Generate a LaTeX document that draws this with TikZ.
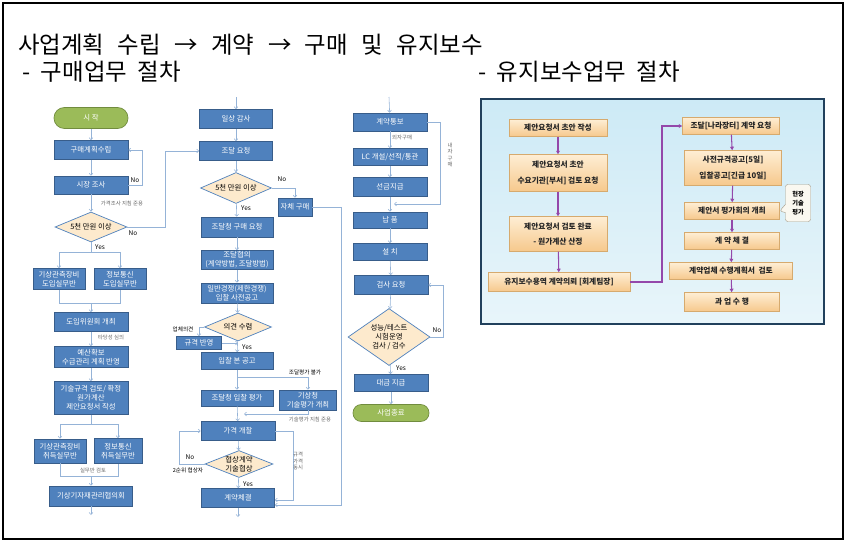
\documentclass[tikz,border=0pt]{standalone}
\usepackage{fontspec}
\setmainfont{Noto Sans CJK KR}
\usetikzlibrary{arrows.meta,shapes.geometric,shapes.callouts,calc}

\definecolor{boxblue}{RGB}{79,129,189}
\definecolor{boxline}{RGB}{56,93,138}
\definecolor{linkblue}{RGB}{149,179,215}
\definecolor{decfill}{RGB}{253,234,205}
\definecolor{termgreen}{RGB}{155,187,89}
\definecolor{termline}{RGB}{113,140,62}
\definecolor{notegray}{RGB}{105,105,105}
\definecolor{paneltop}{RGB}{205,234,246}
\definecolor{panelbot}{RGB}{232,245,250}
\definecolor{panelline}{RGB}{33,64,92}
\definecolor{peachtop}{RGB}{254,238,212}
\definecolor{peachbot}{RGB}{246,200,140}
\definecolor{peachline}{RGB}{214,170,110}
\definecolor{flowpurple}{RGB}{148,72,170}

\begin{document}
\begin{tikzpicture}[x=0.3mm,y=-0.3mm,
	blk/.style={draw=boxline, fill=boxblue, text=white, line width=0.5pt, inner sep=0pt, align=center, font=\fontsize{6.3}{7.8}\selectfont},
	dec/.style={diamond, draw=boxblue, fill=decfill, line width=0.6pt, inner sep=0pt, aspect=2.4, align=center, font=\fontsize{6.3}{7.8}\selectfont},
	term/.style={draw=termline, fill=termgreen, text=white, line width=0.6pt, inner sep=0pt, font=\fontsize{6.3}{7.8}\selectfont},
	link/.style={draw=linkblue, line width=0.5pt},
	con/.style={link, -{Straight Barb[length=1.8pt,width=3.2pt]}},
	lbl/.style={inner sep=0pt, font=\fontsize{5.5}{6}\selectfont},
	note/.style={inner sep=0pt, text=notegray, align=center, font=\fontsize{4.6}{5.5}\selectfont},
	head/.style={anchor=west, inner sep=0pt, font=\fontsize{20}{24}\selectfont},
	pbox/.style={draw=peachline, top color=peachtop, bottom color=peachbot, inner sep=0pt, align=center, text=black!85, font=\bfseries\fontsize{6.6}{13}\selectfont},
	pcon/.style={draw=flowpurple, line width=0.9pt, -{Triangle[length=3pt,width=3.2pt]}}]
	\useasboundingbox (0,0) rectangle (846,542);
	\draw[line width=0.9pt] (3,3) rectangle (843,539);

	\node[head] (title) at (18,45) {\spaceskip=11.5pt\relax 사업계획 수립 → 계약 → 구매 및 유지보수};
	\node[head] (subbuy) at (22,72) {\spaceskip=9pt\relax - 구매업무 절차};
	\node[head] (subkeep) at (478,72) {\spaceskip=9pt\relax - 유지보수업무 절차};

	% 1열
	\node[term, rounded corners=3.1mm, minimum width=22.2mm, minimum height=6.3mm] (start) at (91,118) {시 작};
	\node[blk, minimum width=22.2mm, minimum height=5.7mm] (plan) at (91,150) {구매계획수립};
	\node[blk, minimum width=22.2mm, minimum height=5.4mm] (survey) at (91,185) {시장 조사};
	\node[dec, minimum width=21.6mm, minimum height=9mm] (d1) at (91,227) {5천 만원 이상};
	\node[blk, minimum width=15.6mm, minimum height=6.3mm] (in1) at (59,279) {기상관측장비\\도입실무반};
	\node[blk, minimum width=15.6mm, minimum height=6.3mm] (in2) at (120,279) {정보통신\\도입실무반};
	\node[blk, minimum width=22.2mm, minimum height=5.7mm] (comm) at (91,322) {도입위원회 개최};
	\node[blk, minimum width=22.2mm, minimum height=6.3mm] (budget) at (91,357) {예산확보\\수급관리 계획 반영};
	\node[blk, minimum width=22.2mm, minimum height=9.9mm] (spec) at (91,398) {기술규격 검토/ 확정\\원가계산\\제안요청서 작성};
	\node[blk, minimum width=15.6mm, minimum height=7.2mm] (ac1) at (60,451) {기상관측장비\\취득실무반};
	\node[blk, minimum width=14.4mm, minimum height=7.5mm] (ac2) at (118,451) {정보통신\\취득실무반};
	\node[blk, minimum width=24.9mm, minimum height=6mm] (council) at (91,496) {기상기자재관리협의회};
	\coordinate (mg1) at (91,303);
	\coordinate (mg2) at (91,476);
	\coordinate (out1) at (91,515);

	\draw[con] (start) -- (plan);
	\draw[con] (plan) -- (survey);
	\draw[con] (survey.east) -- ++(14,0) |- (plan.east);
	\node[lbl] at (135,180) {No};
	\draw[con] (survey) -- (d1);
	\node[note] at (122,203) {가격조사 지침 준용};
	\draw[con] (d1.south) -- ++(0,10) -| (in1.north);
	\draw[con] (d1.south) -- ++(0,10) -| (in2.north);
	\node[lbl, anchor=west] at (95,247) {Yes};
	\node[lbl] at (133,233) {No};
	\draw[link] (in1.south) -- ++(0,13.5) -| (in2.south);
	\draw[con] (mg1) -- (comm.north);
	\draw[con] (comm) -- (budget);
	\node[note] at (111,337) {타당성 심의};
	\draw[con] (budget) -- (spec);
	\draw[con] (spec.south) -- ++(0,9) -| (ac1.north);
	\draw[con] (spec.south) -- ++(0,9) -| (ac2.north);
	\draw[link] (ac1.south) -- ++(0,13) -| (ac2.south);
	\node[note] at (93,470) {실무반 검토};
	\draw[con] (mg2) -- (council.north);
	\draw[con] (council) -- (out1);

	% 2열
	\coordinate (in2top) at (236,97);
	\node[blk, minimum width=21.9mm, minimum height=5.7mm] (audit) at (236,119) {일상 감사};
	\node[blk, minimum width=21.9mm, minimum height=5.7mm] (req) at (236,151) {조달 요청};
	\node[dec, minimum width=21.3mm, minimum height=9.3mm] (d2) at (236,188) {5천 만원 이상};
	\node[blk, minimum width=10.2mm, minimum height=5.4mm] (self) at (295,207) {자체 구매};
	\node[blk, minimum width=21.6mm, minimum height=6mm] (pps) at (237,227) {조달청 구매 요청};
	\node[blk, minimum width=21.6mm, minimum height=5.7mm] (consult) at (237,260) {조달협의\\(계약방법, 조달방법)};
	\node[blk, minimum width=21.6mm, minimum height=6mm] (notice) at (237,293) {일반경쟁(제한경쟁)\\입찰 사전공고};
	\node[dec, minimum width=20.1mm, minimum height=8.4mm] (d3) at (238,327) {의견 수렴};
	\node[blk, minimum width=13.5mm, minimum height=3.9mm] (reflect) at (199,343) {규격 반영};
	\node[blk, minimum width=21.6mm, minimum height=5.1mm] (main) at (237,361) {입찰 본 공고};
	\node[blk, minimum width=21.6mm, minimum height=4.8mm] (eval) at (237,398) {조달청 입찰 평가};
	\node[blk, minimum width=17.1mm, minimum height=6mm] (kma) at (308,400) {기상청\\기술평가 개최};
	\node[blk, minimum width=22.2mm, minimum height=5.7mm] (open) at (238,431) {가격 개찰};
	\node[dec, aspect=2.5, minimum width=20.4mm, minimum height=8.1mm] (d4) at (239,464) {협상계약\\기술협상};
	\node[blk, minimum width=21.9mm, minimum height=5.7mm] (sign) at (238,498) {계약체결};
	\coordinate (j1) at (238,343);
	\coordinate (j2) at (244,414);
	\coordinate (out2) at (238,517);

	\draw[con] (in2top) -- (audit);
	\draw[con] (audit) -- (req);
	\draw[con] (d1.east) -- (165,227) |- (req.west);
	\draw[con] (req) -- (d2);
	\draw[con] (d2.east) -| (self.north);
	\node[lbl] at (282,179) {No};
	\draw[con] (d2) -- (pps);
	\node[lbl, anchor=west] at (241,208) {Yes};
	\draw[con] (pps) -- (consult);
	\draw[con] (consult) -- (notice);
	\draw[con] (notice) -- (d3);
	\draw[con] (d3.west) -| (reflect.north);
	\node[lbl, font=\fontsize{4.8}{5.5}\selectfont] at (183,329) {업체의견};
	\draw[con] (reflect.east) -- (j1);
	\draw[con] (d3) -- (main);
	\node[lbl, anchor=west] at (242,347) {Yes};
	\draw[con] (main) -- (eval);
	\draw[con] (main.south) -- ++(0,7) -| (kma.north);
	\node[lbl, font=\fontsize{4.8}{5.5}\selectfont] at (305,372) {조달평가 불가};
	\draw[con] (kma.south) |- (j2);
	\node[note] at (310,419) {기술평가 지침 준용};
	\draw[con] (eval) -- (open);
	\draw[con] (open) -- (d4);
	\draw[con] (d4.west) -- ++(-25,0) |- (open.west);
	\node[lbl] at (190,457) {No};
	\node[lbl, font=\fontsize{4.8}{5.5}\selectfont] at (188,470) {2순위 협상자};
	\draw[con] (d4) -- (sign);
	\node[lbl, anchor=west] at (243,484) {Yes};
	\draw[con] (open.east) -- ++(18,0) |- ($(sign.east)+(0,2)$);
	\node[note] at (298,461) {규격\\가격\\동시};
	\draw[con] (self.east) -- (341,207) |- ($(sign.east)+(0,7)$);
	\draw[con] (sign) -- (out2);

	% 3열
	\coordinate (in3top) at (389,97);
	\node[blk, minimum width=22.2mm, minimum height=5.4mm] (notify) at (390,122) {계약통보};
	\node[blk, minimum width=22.2mm, minimum height=5.1mm] (lc) at (390,157) {LC 개설/선적/통관};
	\node[blk, minimum width=22.2mm, minimum height=5.7mm] (adv) at (390,187) {선금지급};
	\node[blk, minimum width=22.2mm, minimum height=4.8mm] (deliv) at (390,220) {납 품};
	\node[blk, minimum width=22.2mm, minimum height=5.1mm] (inst) at (390,252) {설 치};
	\node[blk, minimum width=22.2mm, minimum height=5.7mm] (insp) at (391,285) {검사 요청};
	\node[dec, aspect=1.4, minimum width=24.6mm, minimum height=17.1mm] (d5) at (389,337) {성능/테스트\\시험운영\\검사 / 검수};
	\node[blk, minimum width=22.2mm, minimum height=5.1mm] (pay) at (391,383) {대금 지급};
	\node[term, rounded corners=2.5mm, minimum width=22.8mm, minimum height=5.1mm] (fin) at (391,413) {사업종료};
	\coordinate (j3) at (394,204);

	\draw[con] (in3top) -- (notify);
	\draw[con] (notify) -- (lc);
	\node[note, anchor=west] at (392,137) {외자구매};
	\draw[con] (notify.east) -- (440,122) |- (j3);
	\node[note] at (450,155) {내\\자\\구\\매};
	\draw[con] (lc) -- (adv);
	\draw[con] (adv) -- (deliv);
	\draw[con] (deliv) -- (inst);
	\draw[con] (inst) -- (insp);
	\draw[con] (insp) -- (d5);
	\draw[con] (d5.east) -- ++(13,0) |- (insp.east);
	\node[lbl] at (437,330) {No};
	\draw[con] (d5) -- (pay);
	\node[lbl, anchor=west] at (396,368) {Yes};
	\draw[con] (pay) -- (fin);

	% 유지보수
	\shadedraw[draw=panelline, line width=2pt, top color=paneltop, bottom color=panelbot] (481,99) rectangle (824,324);
	\node[pbox, minimum width=29.4mm, minimum height=5.1mm] (r1) at (558,128) {제안요청서 초안 작성};
	\node[pbox, minimum width=29.4mm, minimum height=11.1mm] (r2) at (558,173) {제안요청서 초안\\수요기관[부서] 검토 요청};
	\node[pbox, minimum width=29.4mm, minimum height=10.5mm] (r3) at (558,234) {제안요청서 검토 완료\\- 원가계산 산정};
	\node[pbox, minimum width=42.6mm, minimum height=5.7mm] (r4) at (559,282) {유지보수용역 계약의뢰 [회계팀장]};
	\node[pbox, minimum width=29.1mm, minimum height=5.1mm] (r5) at (731,126) {조달[나라장터] 계약 요청};
	\node[pbox, minimum width=29.1mm, minimum height=10.5mm] (r6) at (733,168) {사전규격공고[5일]\\입찰공고[긴급 10일]};
	\node[pbox, minimum width=28.5mm, minimum height=5.1mm] (r7) at (732,211) {제안서 평가회의 개최};
	\node[pbox, minimum width=28.5mm, minimum height=5.1mm] (r8) at (732,241) {계 약 체 결};
	\node[pbox, minimum width=36.9mm, minimum height=5.1mm] (r9) at (731,271) {계약업체 수행계획서 \ 검토};
	\node[pbox, minimum width=28.5mm, minimum height=5.7mm] (r10) at (732,302) {과 업 수 행};
	\node[rectangle callout, draw={rgb,255:red,170;green,160;blue,140}, fill={rgb,255:red,250;green,248;blue,240}, rounded corners=2pt, minimum width=7.5mm, minimum height=11.1mm, inner sep=0pt, align=center, font=\bfseries\fontsize{5.3}{7.4}\selectfont, callout absolute pointer={(r7.east)}] (cb) at (798,203) {현장\\기술\\평가};

	\draw[pcon] (r1) -- (r2);
	\draw[pcon] (r2) -- (r3);
	\draw[pcon] (r3) -- (r4);
	\draw[pcon] (r4.east) -- (662,282) |- (r5.west);
	\draw[pcon] (r5) -- (r6);
	\draw[pcon] (r6) -- (r7);
	\draw[pcon] (r7) -- (r8);
	\draw[pcon] (r8) -- (r9);
	\draw[pcon] (r9) -- (r10);
\end{tikzpicture}
\end{document}
